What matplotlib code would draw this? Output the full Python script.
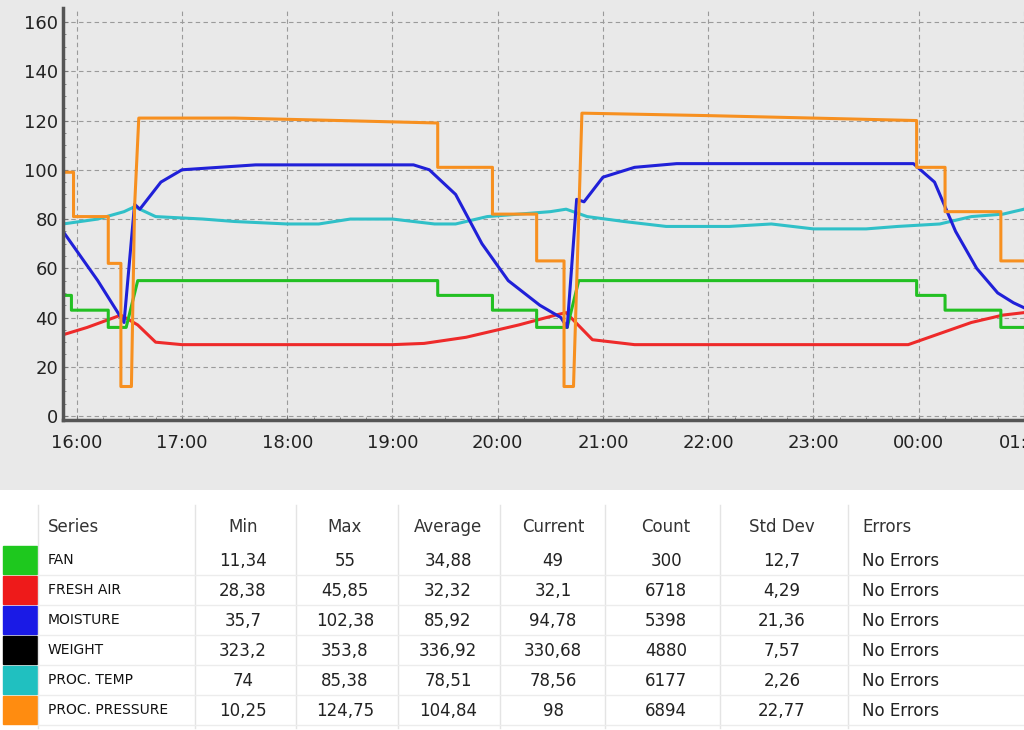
import matplotlib.pyplot as plt
import numpy as np

# time in hours (24 = 00:00 next day)
fan_t = [15.87, 15.95, 15.95, 16.30, 16.30, 16.47, 16.58, 19.43, 19.43, 19.95, 19.95, 20.37, 20.37,
         20.66, 20.77, 23.98, 23.98, 24.25, 24.25, 24.78, 24.78, 25.0]
fan_v = [49, 49, 43, 43, 36, 36, 55, 55, 49, 49, 43, 43, 36, 36, 55, 55, 49, 49, 43, 43, 36, 36]

air_t = [15.87, 16.1, 16.42, 16.58, 16.75, 17.0, 19.0, 19.3, 19.7, 20.2, 20.55, 20.65, 20.9, 21.3,
         23.9, 24.1, 24.5, 24.8, 25.0]
air_v = [33, 36, 41, 37, 30, 29, 29, 29.5, 32, 37, 41, 42, 31, 29, 29, 32, 38, 41, 42]

moist_t = [15.87, 16.2, 16.45, 16.55, 16.6, 16.8, 17.0, 17.7, 19.2, 19.35, 19.6, 19.85, 20.1, 20.4,
           20.6, 20.66, 20.75, 20.82, 21.0, 21.3, 21.7, 23.95, 24.15, 24.35, 24.55, 24.75, 24.9, 25.0]
moist_v = [75, 55, 38, 86, 84, 95, 100, 102, 102, 100, 90, 70, 55, 45, 40, 36, 88, 87, 97, 101,
           102.5, 102.5, 95, 75, 60, 50, 46, 44]

temp_t = [15.87, 16.2, 16.45, 16.55, 16.75, 17.2, 17.5, 18.0, 18.3, 18.6, 19.0, 19.4, 19.6, 19.9,
          20.2, 20.5, 20.65, 20.85, 21.2, 21.6, 22.2, 22.6, 23.0, 23.5, 23.8, 24.2, 24.5, 24.8, 25.0]
temp_v = [78, 80, 83, 85, 81, 80, 79, 78, 78, 80, 80, 78, 78, 81, 82, 83, 84, 81, 79, 77, 77, 78,
          76, 76, 77, 78, 81, 82, 84]

press_t = [15.87, 15.97, 15.97, 16.30, 16.30, 16.42, 16.42, 16.52, 16.55, 16.59, 17.5, 18.5, 19.43,
           19.43, 19.95, 19.95, 20.37, 20.37, 20.63, 20.63, 20.72, 20.80, 22.0, 23.0, 23.98, 23.98,
           24.25, 24.25, 24.78, 24.78, 25.0]
press_v = [99, 99, 81, 81, 62, 62, 12, 12, 85, 121, 121, 120, 119, 101, 101, 82, 82, 63, 63, 12,
           12, 123, 122, 121, 120, 101, 101, 83, 83, 63, 63]

series_names = ["FAN", "FRESH AIR", "MOISTURE", "WEIGHT", "PROC. TEMP", "PROC. PRESSURE"]
series_colors = ["#1ec81e", "#ee1a1a", "#1a1ae6", "#000000", "#20c0c0", "#ff8c10"]
col_heads = ["Series", "Min", "Max", "Average", "Current", "Count", "Std Dev", "Errors"]
stats = [
    ["11,34", "55", "34,88", "49", "300", "12,7", "No Errors"],
    ["28,38", "45,85", "32,32", "32,1", "6718", "4,29", "No Errors"],
    ["35,7", "102,38", "85,92", "94,78", "5398", "21,36", "No Errors"],
    ["323,2", "353,8", "336,92", "330,68", "4880", "7,57", "No Errors"],
    ["74", "85,38", "78,51", "78,56", "6177", "2,26", "No Errors"],
    ["10,25", "124,75", "104,84", "98", "6894", "22,77", "No Errors"],
]
hour_labels = ["16:00", "17:00", "18:00", "19:00", "20:00", "21:00", "22:00", "23:00", "00:00", "01:00"]

fig = plt.figure(figsize=(10.24, 7.3), dpi=100)
fig.patch.set_facecolor("white")

# grey chart area
bg = fig.add_axes([0, 1 - 490 / 730, 1, 490 / 730])
bg.set_facecolor("#e9e9e9")
bg.set_xticks([])
bg.set_yticks([])
for s in bg.spines.values():
    s.set_visible(False)

ax = fig.add_axes([63 / 1024, 1 - 420 / 730, 1 - 63 / 1024, 412 / 730])
ax.set_facecolor("#e9e9e9")
lw = 2.2
ax.plot(air_t, air_v, color="#ee2a2a", lw=lw)
ax.plot(fan_t, fan_v, color="#22c022", lw=lw)
ax.plot(temp_t, temp_v, color="#30c0c8", lw=lw)
ax.plot(moist_t, moist_v, color="#2020d8", lw=lw)
ax.plot(press_t, press_v, color="#f79020", lw=lw)

ax.set_xlim(15.87, 25.0)
ax.set_ylim(-1.6, 165.7)
ax.set_xticks(np.arange(16, 26))
ax.set_xticklabels(hour_labels, fontsize=13, color="#222222")
ax.set_xticks(np.arange(16, 25.01, 0.25), minor=True)
ax.set_yticks(np.arange(0, 161, 20))
ax.set_yticks(np.arange(0, 161, 5), minor=True)
ax.tick_params(axis="y", labelsize=13, colors="#222222")
ax.grid(True, which="major", color="#9a9a9a", linestyle=(0, (4, 3)), lw=0.8)
for side in ["top", "right"]:
    ax.spines[side].set_visible(False)
ax.spines["left"].set_linewidth(2.5)
ax.spines["bottom"].set_linewidth(2.5)
ax.spines["left"].set_color("#555555")
ax.spines["bottom"].set_color("#555555")
ax.tick_params(which="both", color="#777777", direction="in")
ax.tick_params(axis="x", pad=10)

# table
tb = fig.add_axes([0, 0, 1, 1 - 493 / 730])
tb.set_xlim(0, 1024)
tb.set_ylim(730, 493)
tb.axis("off")
col_x = [48, 243, 345, 448, 553, 666, 782, 862]
col_lines = [38, 195, 296, 398, 500, 605, 720, 848]
for xl in col_lines:
    tb.plot([xl, xl], [505, 728], color="#e4e4e4", lw=1)
for i, h in enumerate(col_heads):
    tb.text(col_x[i], 527, h, ha="left" if i in (0, 7) else "center", va="center",
            fontsize=12, color="#333333")
for r in range(len(series_names)):
    y = 560 + 30 * r
    tb.add_patch(plt.Rectangle((3, y - 14), 34, 28, color=series_colors[r]))
    tb.plot([38, 1024], [y + 15, y + 15], color="#ececec", lw=1)
    tb.text(col_x[0], y, series_names[r], ha="left", va="center", fontsize=10, color="#111111")
    for c, val in enumerate(stats[r]):
        tb.text(col_x[c + 1], y + 1, val, ha="left" if c == 6 else "center", va="center",
                fontsize=12, color="#222222")

fig.savefig("out.png", dpi=100)
